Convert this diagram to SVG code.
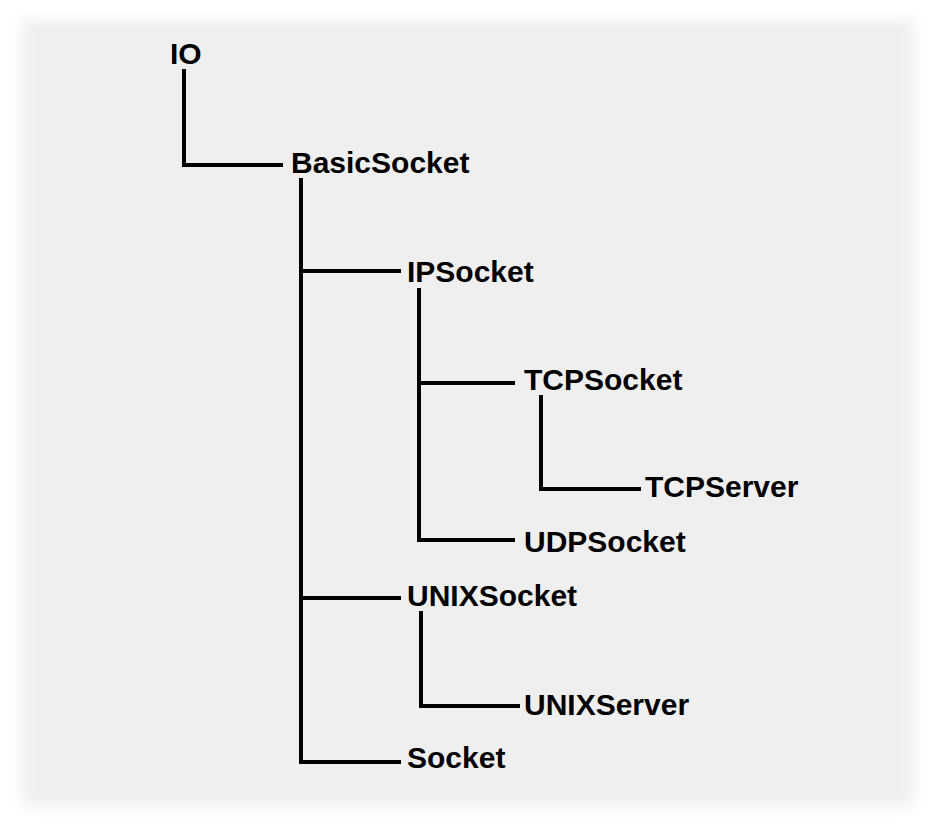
<svg xmlns="http://www.w3.org/2000/svg" width="936" height="825" viewBox="0 0 936 825">
  <defs>
    <filter id="soft" x="-5%" y="-5%" width="110%" height="110%">
      <feGaussianBlur stdDeviation="7"/>
    </filter>
    <style>
      .lbl { font-family: "Liberation Sans", Arial, sans-serif; font-weight: bold; font-size: 30px; fill: #000; }
      .edge { fill: none; stroke: #000; stroke-width: 4; stroke-linecap: butt; stroke-linejoin: miter; }
    </style>
  </defs>
  <rect x="0" y="0" width="936" height="825" fill="#ffffff"/>
  <rect x="22" y="20" width="892" height="786" fill="#efefef" filter="url(#soft)"/>

  <g id="connectors">
    <path class="edge" d="M184,69 V165 H283"/>
    <path class="edge" d="M301,178 V762 H401"/>
    <path class="edge" d="M301,271 H401"/>
    <path class="edge" d="M301,598 H401"/>
    <path class="edge" d="M419,288 V540 H515"/>
    <path class="edge" d="M419,383 H515"/>
    <path class="edge" d="M541,395 V489 H641"/>
    <path class="edge" d="M421,611 V706 H520"/>
  </g>

  <g id="node-IO"><text class="lbl" x="170" y="64">IO</text></g>
  <g id="node-BasicSocket"><text class="lbl" x="291" y="173">BasicSocket</text></g>
  <g id="node-IPSocket"><text class="lbl" x="407" y="282">IPSocket</text></g>
  <g id="node-TCPSocket"><text class="lbl" x="524" y="390">TCPSocket</text></g>
  <g id="node-TCPServer"><text class="lbl" x="645" y="497">TCPServer</text></g>
  <g id="node-UDPSocket"><text class="lbl" x="524" y="552">UDPSocket</text></g>
  <g id="node-UNIXSocket"><text class="lbl" x="407" y="606">UNIXSocket</text></g>
  <g id="node-UNIXServer"><text class="lbl" x="524" y="715">UNIXServer</text></g>
  <g id="node-Socket"><text class="lbl" x="407" y="768">Socket</text></g>
</svg>
